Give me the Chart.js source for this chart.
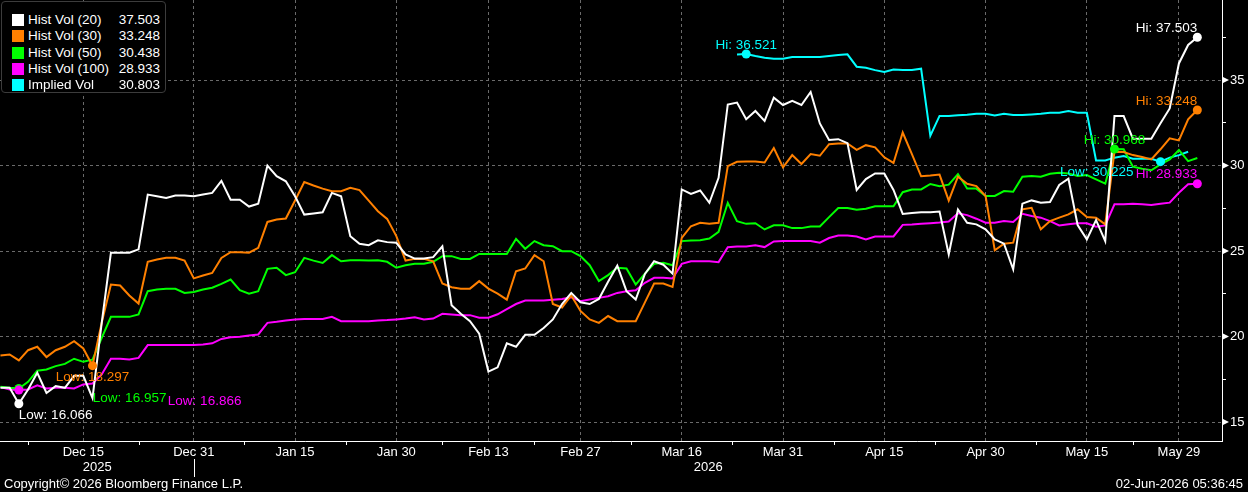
<!DOCTYPE html>
<html>
<head>
<meta charset="utf-8">
<script src="https://cdn.jsdelivr.net/npm/chart.js@4.4.1/dist/chart.umd.min.js"></script>
<style>
  html, body { margin: 0; padding: 0; background: #000; }
  #wrap { position: relative; width: 1248px; height: 492px; background: #000; overflow: hidden; }
  #c { position: absolute; left: 0; top: 0; }
  #legend { position: absolute; left: 1px; top: 1px; width: 165px; height: 92px; box-sizing: border-box;
            border: 1px solid #3c3c3c; border-radius: 4px; background: #000;
            font: 13.5px "Liberation Sans", Arial, sans-serif; color: #fff; }
  .row { position: absolute; left: 0; width: 100%; height: 16px; line-height: 16px; }
  .sw { position: absolute; left: 10px; top: 2px; width: 12px; height: 12px; }
  .nm { position: absolute; left: 26px; top: 0; white-space: nowrap; }
  .vl { position: absolute; right: 5px; top: 0; white-space: nowrap; }
  .foot { position: absolute; top: 476px; font: 13px "Liberation Sans", Arial, sans-serif; color: #fff; white-space: nowrap; }
</style>
</head>
<body>
<div id="wrap">
  <canvas id="c" width="1248" height="492"></canvas>
  <div id="legend"></div>
  <div class="foot" id="copy" style="left:4px;">Copyright© 2026 Bloomberg Finance L.P.</div>
  <div class="foot" id="stamp" style="right:5px;">02-Jun-2026 05:36:45</div>
</div>
<script>
// ---------------- DATA ----------------
const seriesNames  = ['Hist Vol (20)', 'Hist Vol (30)', 'Hist Vol (50)', 'Hist Vol (100)', 'Implied Vol'];
const seriesColors = ['#ffffff', '#ff8000', '#00ff00', '#ff00ff', '#00ffff'];

// one value per weekday, 2025-12-02 .. 2026-06-02
const startDate = '2025-12-02';

const histVol20 = [
  17.0, 17.0, 16.066, 16.9, 17.88, 16.7, 17.1, 17.0, 17.7, 17.7,
  16.4, 20.8, 24.9, 24.9, 24.9, 25.1, 28.3, 28.2, 28.1, 28.25,
  28.25, 28.2, 28.3, 28.4, 29.1, 28.0, 28.0, 27.6, 27.76, 30.0,
  29.38, 29.08, 28.2, 27.13, 27.2, 27.27, 28.4, 28.2, 25.87, 25.42,
  25.34, 25.63, 25.52, 25.48, 24.8, 24.56, 24.56, 24.64, 25.28, 21.83,
  21.33, 20.9, 20.16, 17.95, 18.2, 19.6, 19.4, 20.1, 20.1, 20.5,
  21.0, 21.9, 22.55, 22.0, 21.9, 22.2, 23.2, 24.15, 22.65, 22.16,
  23.66, 24.4, 24.2, 23.68, 28.6, 28.34, 28.54, 27.82, 29.28, 33.57,
  33.68, 32.71, 33.19, 32.61, 33.97, 33.54, 33.78, 33.54, 34.3, 32.46,
  31.5, 31.54, 31.31, 28.57, 29.21, 29.54, 29.54, 28.57, 27.17, 27.23,
  27.27, 27.27, 27.31, 24.8, 27.43, 26.65, 26.56, 26.27, 25.68, 25.43,
  23.93, 27.77, 27.96, 27.83, 27.87, 28.86, 29.23, 26.52, 25.68, 26.81,
  25.58, 32.89, 32.89, 31.57, 31.57, 31.57, 32.47, 33.34, 35.97, 37.05,
  37.503
];
const histVol30 = [
  18.89, 18.95, 18.6, 19.2, 19.4, 18.8, 19.2, 19.4, 19.73, 19.3,
  18.297, 20.8, 23.04, 22.98, 22.4, 21.93, 24.37, 24.5, 24.6, 24.6,
  24.44, 23.4, 23.57, 23.72, 24.6, 24.93, 24.93, 24.9, 25.19, 26.7,
  26.84, 26.9, 27.95, 29.03, 28.83, 28.65, 28.5, 28.5, 28.7, 28.56,
  27.95, 27.33, 26.88, 25.87, 24.44, 24.54, 24.54, 24.4, 23.1, 22.88,
  22.8, 22.8, 23.24, 22.8, 22.51, 22.16, 23.82, 23.98, 24.76, 24.4,
  21.9, 21.7, 22.4, 21.5, 21.0, 20.8, 21.2, 20.9, 20.9, 20.9,
  22.0, 23.1, 23.1, 22.9, 25.77, 26.45, 26.65, 26.6, 26.65, 29.96,
  30.22, 30.24, 30.24, 30.18, 31.02, 29.89, 30.61, 30.09, 30.67, 30.57,
  31.25, 31.29, 31.29, 30.92, 31.19, 31.06, 30.48, 30.15, 31.93, 30.67,
  29.37, 29.41, 29.47, 27.95, 29.35, 28.93, 28.8, 28.22, 25.04, 25.43,
  25.49, 27.44, 27.53, 26.27, 26.75, 26.95, 27.14, 27.44, 26.99, 26.95,
  26.56, 30.81, 30.79, 30.61, 30.5, 30.36, 30.95, 31.59, 31.47, 32.7,
  33.248
];
const histVol50 = [
  17.06, 17.0, 16.957, 17.35, 18.0, 18.07, 18.27, 18.4, 18.7, 18.52,
  18.65, 19.92, 21.15, 21.15, 21.15, 21.29, 22.65, 22.75, 22.79, 22.79,
  22.55, 22.6, 22.75, 22.85, 23.08, 23.33, 22.71, 22.5, 22.65, 23.96,
  24.02, 23.59, 23.76, 24.6, 24.44, 24.3, 24.76, 24.4, 24.46, 24.46,
  24.44, 24.46, 24.37, 24.02, 24.17, 24.25, 24.25, 24.37, 24.7, 24.7,
  24.54, 24.54, 24.83, 24.83, 24.83, 24.83, 25.71, 25.13, 25.58, 25.34,
  25.28, 24.99, 24.99, 24.7, 24.17, 23.24, 23.59, 24.02, 23.98, 23.04,
  23.68, 24.25, 24.31, 24.17, 25.58, 25.61, 25.63, 25.73, 26.12, 27.82,
  26.75, 26.59, 26.63, 26.26, 26.5, 26.5, 26.34, 26.34, 26.44, 26.44,
  26.98, 27.52, 27.52, 27.41, 27.47, 27.62, 27.62, 27.62, 28.44, 28.6,
  28.6, 28.92, 28.79, 28.88, 29.5, 28.65, 28.65, 28.22, 28.22, 28.51,
  28.47, 29.35, 29.39, 29.35, 29.52, 29.58, 29.54, 29.39, 29.44, 29.19,
  28.94, 30.968, 30.95, 29.93, 29.81, 29.72, 30.07, 30.36, 30.91, 30.26,
  30.438
];
const histVol100 = [
  17.04, 16.9, 16.866, 16.9, 17.15, 16.96, 17.0, 17.0, 16.96, 17.2,
  17.25, 17.78, 18.7, 18.7, 18.65, 18.75, 19.5, 19.5, 19.5, 19.5,
  19.5, 19.5, 19.53, 19.6, 19.86, 19.96, 19.98, 20.06, 20.12, 20.8,
  20.86, 20.94, 21.0, 21.03, 21.03, 21.03, 21.15, 20.9, 20.9, 20.9,
  20.9, 20.94, 20.96, 21.0, 21.05, 21.13, 21.0, 21.05, 21.33, 21.29,
  21.25, 21.25, 21.1, 21.1, 21.3, 21.6, 21.9, 22.1, 22.1, 22.1,
  22.15, 22.2, 22.3, 22.07, 22.16, 22.26, 22.36, 22.55, 22.65, 22.7,
  23.14, 23.43, 23.43, 23.39, 24.25, 24.4, 24.4, 24.4, 24.35, 25.22,
  25.27, 25.27, 25.33, 25.23, 25.56, 25.58, 25.58, 25.58, 25.58, 25.49,
  25.76, 25.91, 25.91, 25.85, 25.68, 25.85, 25.85, 25.85, 26.53, 26.55,
  26.59, 26.63, 26.67, 26.73, 27.21, 27.1, 26.89, 26.66, 26.66, 26.75,
  26.7, 27.18, 27.05, 26.95, 26.75, 26.5, 26.56, 26.62, 26.62, 26.42,
  26.5, 27.73, 27.73, 27.77, 27.73, 27.69, 27.77, 27.83, 28.41, 28.9,
  28.933
];
const impliedVol = [
  null, null, null, null, null, null, null, null, null, null,
  null, null, null, null, null, null, null, null, null, null,
  null, null, null, null, null, null, null, null, null, null,
  null, null, null, null, null, null, null, null, null, null,
  null, null, null, null, null, null, null, null, null, null,
  null, null, null, null, null, null, null, null, null, null,
  null, null, null, null, null, null, null, null, null, null,
  null, null, null, null, null, null, null, null, null, null,
  36.5, 36.521, 36.4, 36.3, 36.24, 36.24, 36.34, 36.34, 36.34, 36.34,
  36.4, 36.46, 36.5, 35.78, 35.72, 35.58, 35.47, 35.62, 35.58, 35.58,
  35.66, 31.74, 32.9, 32.9, 32.94, 32.97, 33.03, 33.03, 32.93, 33.03,
  32.95, 32.95, 32.99, 33.03, 33.09, 33.09, 33.19, 33.09, 33.09, 30.3,
  30.3, 30.46, 30.56, 30.4, 30.4, 30.4, 30.225, 30.46, 30.61, 30.803,
  null
];

const tickDates  = ['2025-12-15', '2025-12-31', '2026-01-15', '2026-01-30', '2026-02-13', '2026-02-27',
                    '2026-03-16', '2026-03-31', '2026-04-15', '2026-04-30', '2026-05-15', '2026-05-29'];
const tickLabels = ['Dec 15', 'Dec 31', 'Jan 15', 'Jan 30', 'Feb 13', 'Feb 27',
                    'Mar 16', 'Mar 31', 'Apr 15', 'Apr 30', 'May 15', 'May 29'];
const yearLabels = ['2025', '2026'];

// ---------------- BUILD ----------------
const series = [histVol20, histVol30, histVol50, histVol100, impliedVol];

function iso(d) { return d.toISOString().slice(0, 10); }
const dates = [];
{
  const d = new Date(startDate + 'T00:00:00Z');
  while (dates.length < histVol20.length) {
    const wd = d.getUTCDay();
    if (wd !== 0 && wd !== 6) dates.push(iso(d));
    d.setUTCDate(d.getUTCDate() + 1);
  }
}
const tickIndex = tickDates.map(t => dates.indexOf(t));
// last date of the first year: the year separator sits there
let yearBoundary = 0;
dates.forEach((t, i) => { if (t.slice(0, 4) === yearLabels[0]) yearBoundary = i; });

const FONT = '"Liberation Sans", Arial, sans-serif';
Chart.defaults.font.family = FONT;
Chart.defaults.font.size = 13;
Chart.defaults.color = '#ffffff';

const GRID = '#6a6a6a';

// annotation styling (which extreme, where its label sits)
const marks = [
  { s: 4, kind: 'max', align: 'center', dx: 0,   dy: -9 },
  { s: 4, kind: 'min', align: 'right',  dx: -27, dy: 11 },
  { s: 3, kind: 'max', align: 'right',  dx: 0,   dy: -9 },
  { s: 2, kind: 'max', align: 'center', dx: 0,   dy: -9 },
  { s: 1, kind: 'max', align: 'right',  dx: 0,   dy: -9 },
  { s: 0, kind: 'max', align: 'right',  dx: 0,   dy: -9 },
  { s: 2, kind: 'min', align: 'left',   dx: 74,  dy: 10 },
  { s: 3, kind: 'min', align: 'left',   dx: 149, dy: 11 },
  { s: 1, kind: 'min', align: 'center', dx: 0,   dy: 12 },
  { s: 0, kind: 'min', align: 'left',   dx: 0,   dy: 11 },
];

function extreme(arr, kind) {
  let bi = -1;
  arr.forEach((v, i) => {
    if (v === null) return;
    if (bi < 0 || (kind === 'min' ? v < arr[bi] : v > arr[bi])) bi = i;
  });
  return bi;
}

const decor = {
  id: 'decor',
  afterDatasetsDraw(chart) {
    const ctx = chart.ctx, xs = chart.scales.x, ys = chart.scales.y;
    ctx.save();
    marks.forEach(m => {
      const arr = series[m.s];
      const i = extreme(arr, m.kind);
      const px = xs.getPixelForValue(i), py = ys.getPixelForValue(arr[i]);
      ctx.fillStyle = seriesColors[m.s];
      ctx.beginPath(); ctx.arc(px, py, 4.5, 0, Math.PI * 2); ctx.fill();
    });
    ctx.font = '13.5px ' + FONT;
    ctx.textBaseline = 'middle';
    marks.forEach(m => {
      const arr = series[m.s];
      const i = extreme(arr, m.kind);
      const px = xs.getPixelForValue(i), py = ys.getPixelForValue(arr[i]);
      ctx.fillStyle = seriesColors[m.s];
      ctx.textAlign = m.align;
      ctx.fillText((m.kind === 'min' ? 'Low: ' : 'Hi: ') + arr[i].toFixed(3), px + m.dx, py + m.dy);
    });
    ctx.restore();
  },
  afterDraw(chart) {
    const ctx = chart.ctx, xs = chart.scales.x, ys = chart.scales.y, ca = chart.chartArea;
    ctx.save();
    // y-axis triangle markers at labelled ticks
    ctx.fillStyle = '#ffffff';
    ys.ticks.forEach(t => {
      if (Math.abs(t.value % 5) > 1e-6) return;
      const py = ys.getPixelForValue(t.value);
      ctx.beginPath();
      ctx.moveTo(ca.right, py - 3.5); ctx.lineTo(ca.right + 7, py); ctx.lineTo(ca.right, py + 3.5);
      ctx.closePath(); ctx.fill();
    });
    // x-axis tick marks between labels
    ctx.strokeStyle = '#ffffff'; ctx.lineWidth = 1;
    const px = tickIndex.map(i => xs.getPixelForValue(i));
    const mids = [px[0] - (px[1] - px[0]) / 2];
    for (let k = 1; k < px.length; k++) mids.push((px[k - 1] + px[k]) / 2);
    mids.forEach(m => {
      const xx = Math.round(m) + 0.5;
      ctx.beginPath(); ctx.moveTo(xx, ca.bottom); ctx.lineTo(xx, ca.bottom + 4); ctx.stroke();
    });
    // year separator + year labels (each centred over its year's span)
    const bx = Math.round(xs.getPixelForValue(yearBoundary)) + 0.5;
    ctx.beginPath(); ctx.moveTo(bx, ca.bottom + 18); ctx.lineTo(bx, ca.bottom + 36); ctx.stroke();
    ctx.font = '13px ' + FONT; ctx.fillStyle = '#ffffff';
    ctx.textAlign = 'center'; ctx.textBaseline = 'middle';
    ctx.fillText(yearLabels[0], (ca.left + bx) / 2, ca.bottom + 26);
    ctx.fillText(yearLabels[1], (bx + ca.right) / 2, ca.bottom + 26);
    ctx.restore();
  }
};

const datasets = series.map((arr, k) => ({
  label: seriesNames[k],
  data: arr.map((v, i) => ({ x: i, y: v })),
  borderColor: seriesColors[k],
  backgroundColor: seriesColors[k],
  borderWidth: 2,
  pointRadius: 0,
  tension: 0,
  spanGaps: false,
}));

new Chart(document.getElementById('c'), {
  type: 'line',
  data: { datasets },
  options: {
    responsive: false,
    animation: false,
    devicePixelRatio: 1,
    layout: { padding: 0 },
    plugins: { legend: { display: false }, tooltip: { enabled: false } },
    scales: {
      x: {
        type: 'linear',
        min: -0.048,
        max: 132.68,
        afterBuildTicks: s => { s.ticks = tickIndex.map(v => ({ value: v })); },
        afterFit: s => { s.height = 51; s.paddingLeft = 0; s.paddingRight = 0; },
        ticks: {
          autoSkip: false, maxRotation: 0, padding: 4, color: '#ffffff',
          callback: v => tickLabels[tickIndex.indexOf(v)] || ''
        },
        grid: { color: GRID, drawTicks: false, lineWidth: 1 },
        border: { display: true, color: '#ffffff', width: 1, dash: [3, 3] },
      },
      y: {
        position: 'right',
        min: 13.89,
        max: 39.68,
        afterBuildTicks: s => {
          s.ticks = s.ticks.filter(t => Math.abs(t.value / 2.5 - Math.round(t.value / 2.5)) < 1e-6);
        },
        afterFit: s => { s.width = 26; s.paddingTop = 0; s.paddingBottom = 0; },
        ticks: {
          stepSize: 2.5, padding: 4, color: '#ffffff',
          callback: v => (Math.abs(v % 5) < 1e-6 ? String(v) : '')
        },
        grid: {
          color: c => (c.tick && Math.abs(c.tick.value % 5) < 1e-6 ? GRID : 'rgba(0,0,0,0)'),
          tickColor: '#ffffff', tickLength: 4, drawTicks: true, lineWidth: 1
        },
        border: { display: true, color: '#ffffff', width: 1, dash: [3, 3] },
      }
    }
  },
  plugins: [decor]
});

// legend (HTML)
const lg = document.getElementById('legend');
series.forEach((arr, k) => {
  let last = null;
  for (let i = arr.length - 1; i >= 0; i--) if (arr[i] !== null) { last = arr[i]; break; }
  const row = document.createElement('div');
  row.className = 'row';
  row.style.top = (10 + k * 16.3) + 'px';
  row.innerHTML = '<span class="sw" style="background:' + seriesColors[k] + '"></span>' +
                  '<span class="nm">' + seriesNames[k] + '</span>' +
                  '<span class="vl">' + last.toFixed(3) + '</span>';
  lg.appendChild(row);
});
</script>
</body>
</html>
